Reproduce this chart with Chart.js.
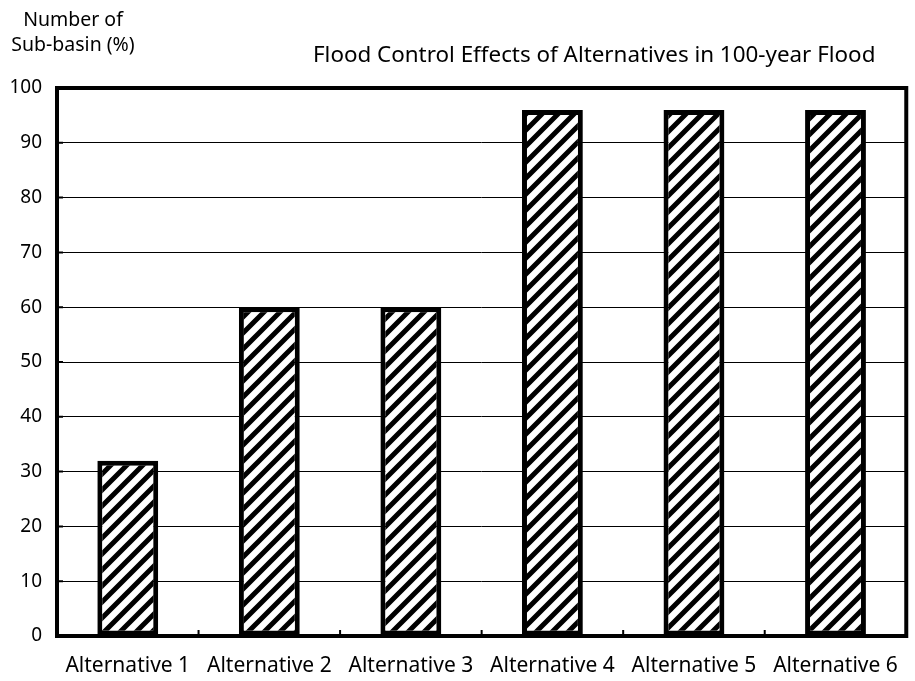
<!DOCTYPE html>
<html>
<head>
<meta charset="utf-8">
<script src="https://cdn.jsdelivr.net/npm/chart.js@4.4.0/dist/chart.umd.min.js"></script>
<style>
  html, body { margin: 0; padding: 0; background: #fff; }
  #wrap { width: 915px; height: 681px; }
</style>
</head>
<body>
<div id="wrap"><canvas id="chart" width="915" height="681"></canvas></div>
<script>
// chart data
const categories = ["Alternative 1", "Alternative 2", "Alternative 3", "Alternative 4", "Alternative 5", "Alternative 6"];
const subBasinPct = [32, 60, 60, 96, 96, 96];
const yTicks = [0, 10, 20, 30, 40, 50, 60, 70, 80, 90, 100];
const chartTitle = "Flood Control Effects of Alternatives in 100-year Flood";
const yTitle = ["Number of", "Sub-basin (%)"];

const FONT = "Noto Sans";

// diagonal hatch "/" pattern
function makeHatch() {
    const s = 16;
    const c = document.createElement("canvas");
    c.width = s; c.height = s;
    const g = c.getContext("2d");
    g.fillStyle = "#fff";
    g.fillRect(0, 0, s, s);
    g.strokeStyle = "#000";
    g.lineWidth = 5;
    g.beginPath();
    g.moveTo(-s, 2 * s); g.lineTo(2 * s, -s);
    g.moveTo(-s, s); g.lineTo(s, -s);
    g.moveTo(0, 2 * s); g.lineTo(2 * s, 0);
    g.stroke();
    return g.createPattern(c, "repeat");
}

// frame, inward tick marks and texts
const framePlugin = {
    id: "frame",
    afterDatasetsDraw(chart) {
        const { ctx, chartArea: a, scales } = chart;
        ctx.save();
        ctx.strokeStyle = "#000";
        // y ticks pointing inward
        ctx.lineWidth = 2;
        ctx.beginPath();
        yTicks.forEach(v => {
            const y = scales.y.getPixelForValue(v);
            ctx.moveTo(a.left, y); ctx.lineTo(a.left + 6, y);
        });
        // x ticks between categories, pointing up
        for (let i = 1; i < categories.length; i++) {
            const x = (scales.x.getPixelForValue(i - 1) + scales.x.getPixelForValue(i)) / 2;
            ctx.moveTo(x, a.bottom); ctx.lineTo(x, a.bottom - 6);
        }
        ctx.stroke();
        ctx.lineWidth = 4;
        ctx.strokeRect(a.left, a.top, a.right - a.left, a.bottom - a.top);
        ctx.restore();
    },
    afterDraw(chart) {
        const ctx = chart.ctx;
        ctx.save();
        ctx.fillStyle = "#000";
        ctx.textBaseline = "middle";
        ctx.textAlign = "left";
        ctx.font = "22.4px '" + FONT + "'";
        ctx.fillText(chartTitle, 313, 56);
        ctx.textAlign = "center";
        ctx.font = "19.5px '" + FONT + "'";
        ctx.fillText(yTitle[0], 73, 20);
        ctx.fillText(yTitle[1], 73, 45);
        ctx.restore();
    }
};

const ctx = document.getElementById("chart").getContext("2d");
new Chart(ctx, {
    type: "bar",
    data: {
        labels: categories,
        datasets: [{
            data: subBasinPct,
            backgroundColor: makeHatch(),
            borderColor: "#000",
            borderWidth: 5,
            borderSkipped: false,
            barPercentage: 0.43,
            categoryPercentage: 1.0
        }]
    },
    options: {
        responsive: false,
        animation: false,
        layout: { padding: { top: 88, right: 2, left: 0, bottom: 0 } },
        plugins: {
            legend: { display: false },
            tooltip: { enabled: false },
            title: { display: false }
        },
        scales: {
            x: {
                grid: { display: false, drawTicks: false },
                border: { display: false },
                ticks: { color: "#000", padding: 17, font: { family: FONT, size: 21 } },
                afterFit: s => { s.height = 45; }
            },
            y: {
                min: 0,
                max: 100,
                afterBuildTicks: s => { s.ticks = yTicks.map(v => ({ value: v })); },
                grid: { color: "#000", lineWidth: 1, drawTicks: false },
                border: { display: false },
                ticks: { color: "#000", padding: 15, font: { family: FONT, size: 19 } },
                afterFit: s => { s.width = 57; }
            }
        }
    },
    plugins: [framePlugin]
});
</script>
</body>
</html>
